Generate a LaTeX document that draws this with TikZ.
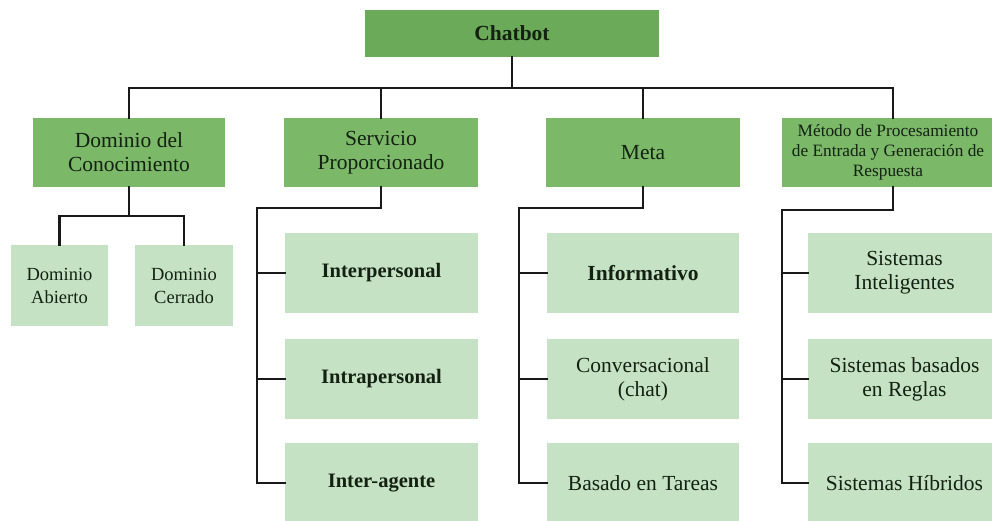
\documentclass[tikz,border=0pt]{standalone}
\usepackage{fontspec}
\setmainfont{Liberation Serif}
\definecolor{topgreen}{HTML}{6BAA58}
\definecolor{midgreen}{HTML}{7BB969}
\definecolor{leafgreen}{HTML}{C5E3C4}
\definecolor{txt}{HTML}{142112}
\begin{document}
\begin{tikzpicture}[x=1pt,y=-1pt,
  box/.style={rectangle, draw=none, inner sep=2pt, align=center, text=txt},
  topbox/.style={box, fill=topgreen, font=\fontsize{21.5}{24}\selectfont\bfseries},
  catbox/.style={box, fill=midgreen, minimum height=69, font=\fontsize{21.5}{24}\selectfont},
  leafbox/.style={box, fill=leafgreen, font=\fontsize{21.5}{24}\selectfont},
  leafbold/.style={leafbox, font=\fontsize{20.5}{24}\selectfont\bfseries},
  link/.style={line width=2.5pt, draw=black!90, line cap=rect, line join=miter}
]
\useasboundingbox (0,0) rectangle (992,521);
\clip (0,0) rectangle (992,521);

\coordinate (bus) at (512,88);
\coordinate (dsplit) at (129,216);
\coordinate (srail) at (257,208);
\coordinate (mrail) at (519,208);
\coordinate (rrail) at (782,210);

% top
\node[topbox, minimum width=294, minimum height=47] (chat) at (512,33.5) {Chatbot};

% level 1
\node[catbox, minimum width=192] (dom) at (129,152.5) {Dominio del\\Conocimiento};
\node[catbox, minimum width=194] (serv) at (381,152.5) {Servicio\\Proporcionado};
\node[catbox, minimum width=194] (meta) at (643,152.5) {Meta};
\node[catbox, minimum width=222, font=\fontsize{17.3}{20}\selectfont] (met) at (893,152.5)
  {\hspace*{-10pt}Método de Procesamiento\\\hspace*{-10pt}de Entrada y Generación de\\\hspace*{-10pt}Respuesta};

% dominio leaves
\node[leafbox, minimum width=97, minimum height=81, font=\fontsize{18.5}{23}\selectfont] (dab) at (59.5,285.5) {Dominio\\Abierto};
\node[leafbox, minimum width=98, minimum height=81, font=\fontsize{18.5}{23}\selectfont] (dce) at (184,285.5) {Dominio\\Cerrado};

% servicio leaves
\node[leafbold, minimum width=193, minimum height=80] (s1) at (381.5,273) {Interpersonal};
\node[leafbold, minimum width=193, minimum height=80] (s2) at (381.5,379) {Intrapersonal};
\node[leafbold, minimum width=193, minimum height=80] (s3) at (381.5,483) {Inter-agente};

% meta leaves
\node[leafbox, minimum width=192, minimum height=80] (m1) at (643,273) {\bfseries Informativo};
\node[leafbox, minimum width=192, minimum height=80] (m2) at (643,379) {Conversacional\\(chat)};
\node[leafbox, minimum width=192, minimum height=80] (m3) at (643,483) {Basado en Tareas};

% metodo leaves
\node[leafbox, minimum width=193, minimum height=80] (r1) at (904.5,273) {Sistemas\\Inteligentes};
\node[leafbox, minimum width=193, minimum height=80] (r2) at (904.5,379) {Sistemas basados\\en Reglas};
\node[leafbox, minimum width=193, minimum height=80] (r3) at (904.5,483) {Sistemas Híbridos};

% connectors top
\draw[link] (chat.south) -- (bus);
\draw[link] (dom.north) |- (bus) -| (met.north);
\draw[link] (serv.north) -- (serv.north |- bus);
\draw[link] (meta.north) -- (meta.north |- bus);

% dominio split
\draw[link] (dom.south) -- (dsplit);
\draw[link] (dab.north) |- (dsplit) -| (dce.north);

% servicio rail
\draw[link] (serv.south) |- (srail) -- (srail |- s3.west) -- (s3.west);
\draw[link] (srail |- s1.west) -- (s1.west);
\draw[link] (srail |- s2.west) -- (s2.west);

% meta rail
\draw[link] (meta.south) |- (mrail) -- (mrail |- m3.west) -- (m3.west);
\draw[link] (mrail |- m1.west) -- (m1.west);
\draw[link] (mrail |- m2.west) -- (m2.west);

% metodo rail
\draw[link] (met.south) |- (rrail) -- (rrail |- r3.west) -- (r3.west);
\draw[link] (rrail |- r1.west) -- (r1.west);
\draw[link] (rrail |- r2.west) -- (r2.west);
\end{tikzpicture}
\end{document}
